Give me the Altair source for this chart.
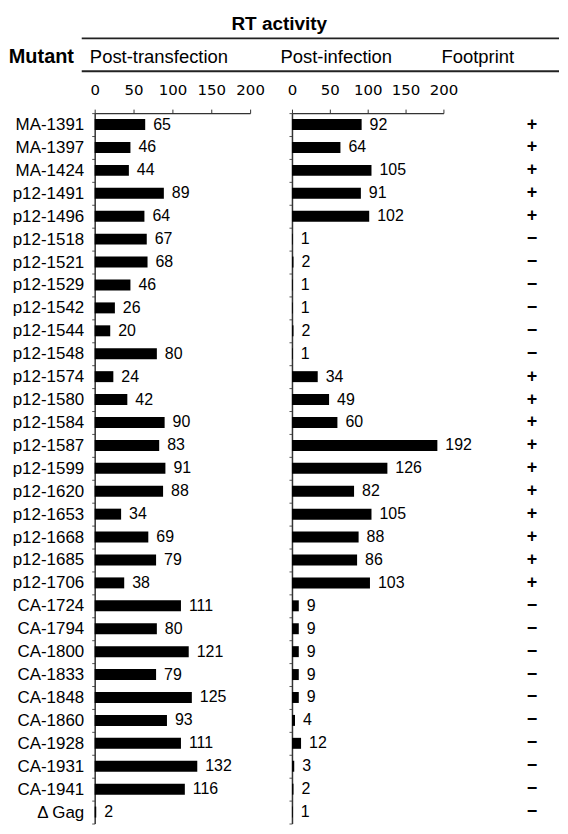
import altair as alt
import pandas as pd

mutants = ["MA-1391", "MA-1397", "MA-1424", "p12-1491", "p12-1496", "p12-1518",
           "p12-1521", "p12-1529", "p12-1542", "p12-1544", "p12-1548", "p12-1574",
           "p12-1580", "p12-1584", "p12-1587", "p12-1599", "p12-1620", "p12-1653",
           "p12-1668", "p12-1685", "p12-1706", "CA-1724", "CA-1794", "CA-1800",
           "CA-1833", "CA-1848", "CA-1860", "CA-1928", "CA-1931", "CA-1941", "Δ Gag"]
post_transfection = [65, 46, 44, 89, 64, 67, 68, 46, 26, 20, 80, 24, 42, 90, 83, 91,
                     88, 34, 69, 79, 38, 111, 80, 121, 79, 125, 93, 111, 132, 116, 2]
post_infection = [92, 64, 105, 91, 102, 1, 2, 1, 1, 2, 1, 34, 49, 60, 192, 126,
                  82, 105, 88, 86, 103, 9, 9, 9, 9, 9, 4, 12, 3, 2, 1]
footprint = ["+", "+", "+", "+", "+", "−", "−", "−", "−", "−", "−", "+", "+", "+",
             "+", "+", "+", "+", "+", "+", "+", "−", "−", "−", "−", "−", "−", "−",
             "−", "−", "−"]
tick_values = [0, 50, 100, 150, 200]

df = pd.DataFrame({"mutant": mutants, "pt": post_transfection, "pi": post_infection,
                   "fp": footprint, "col": ["Footprint"] * len(mutants)})
one = pd.DataFrame({"k": [0]})

STEP = 23
H = STEP * len(mutants)
SANS = "Liberation Sans"
TICKF = "DejaVu Sans"
AX = "#333333"


def yenc(labels, title=None):
    kw = dict(labels=labels, tickSize=3, tickBand="extent", tickColor="#555555",
              domainColor=AX, domainWidth=1.5, labelFont=SANS, labelFontSize=17,
              labelColor="black", labelPadding=8)
    if title:
        kw.update(title=title, titleAngle=0, titleX=-54, titleY=-57, titleAlign="center",
                  titleBaseline="middle", titleFont=SANS, titleFontSize=20,
                  titleFontWeight="bold", titleColor="black")
    else:
        kw.update(title=None)
    return alt.Y("mutant:N", sort=mutants,
                 scale=alt.Scale(paddingInner=0, paddingOuter=0), axis=alt.Axis(**kw))


def xenc(field, title, tx):
    return alt.X(f"{field}:Q", scale=alt.Scale(domain=[0, 200], nice=False),
                 axis=alt.Axis(orient="top", values=tick_values, grid=False, title=title,
                               titleX=tx, titleY=-57, titleAlign="center",
                               titleBaseline="middle", titleFont=SANS, titleFontSize=18.5,
                               titleFontWeight="normal", titleColor="black",
                               labelFont=TICKF, labelFontSize=15, labelColor="black",
                               labelPadding=12, labelFlush=False, labelOverlap=False,
                               labelSeparation=0, labelBound=False,
                               tickSize=4, tickColor=AX, domainColor=AX, domainWidth=1.2))


def panel(field, title, tx, labels, ytitle, W):
    base = alt.Chart(df)
    xe = xenc(field, title, tx)
    ye = yenc(labels, ytitle)
    bars = base.mark_bar(color="black", size=11).encode(x=xe, y=ye)
    txt = base.mark_text(align="left", baseline="middle", dx=8, font=SANS, fontSize=16,
                         color="black").encode(x=xe, y=ye, text=f"{field}:Q")
    return alt.layer(bars, txt).properties(width=W, height=H)


left = panel("pt", "Post-transfection", 64, True, "Mutant", 156)
lines = alt.Chart(one).mark_rule(color="#222222", strokeWidth=2).encode(
    x=alt.value(-13), x2=alt.value(466), y=alt.value(-75))
lines2 = alt.Chart(one).mark_rule(color="#222222", strokeWidth=2).encode(
    x=alt.value(-13), x2=alt.value(466), y=alt.value(-42))
left = alt.layer(left, lines, lines2)

right = panel("pi", "Post-infection", 44, False, None, 152)

fp = alt.Chart(df).mark_text(font=SANS, fontSize=18, fontWeight="bold", dx=12,
                             color="black", baseline="middle").encode(
    x=alt.X("col:N", axis=alt.Axis(orient="top", labels=False, ticks=False, domain=False,
                                   title="Footprint", titleX=-8, titleY=-57,
                                   titleAlign="center", titleBaseline="middle",
                                   titleFont=SANS, titleFontSize=18.5,
                                   titleFontWeight="normal", titleColor="black")),
    y=alt.Y("mutant:N", sort=mutants, axis=None,
            scale=alt.Scale(paddingInner=0, paddingOuter=0)),
    text="fp:N",
).properties(width=70, height=H)

chart = alt.HConcatChart(
    hconcat=[left, right, fp], spacing=42, bounds="flush",
    title=alt.TitleParams("RT activity", anchor="start", dx=224, font=SANS, fontSize=19,
                          fontWeight="bold", color="black", offset=3),
).properties(
    padding={"left": 0, "top": 6, "right": 0, "bottom": 0}
).configure_view(stroke=None)

chart.save("out.html", embed_options={"renderer": "svg", "actions": False})
